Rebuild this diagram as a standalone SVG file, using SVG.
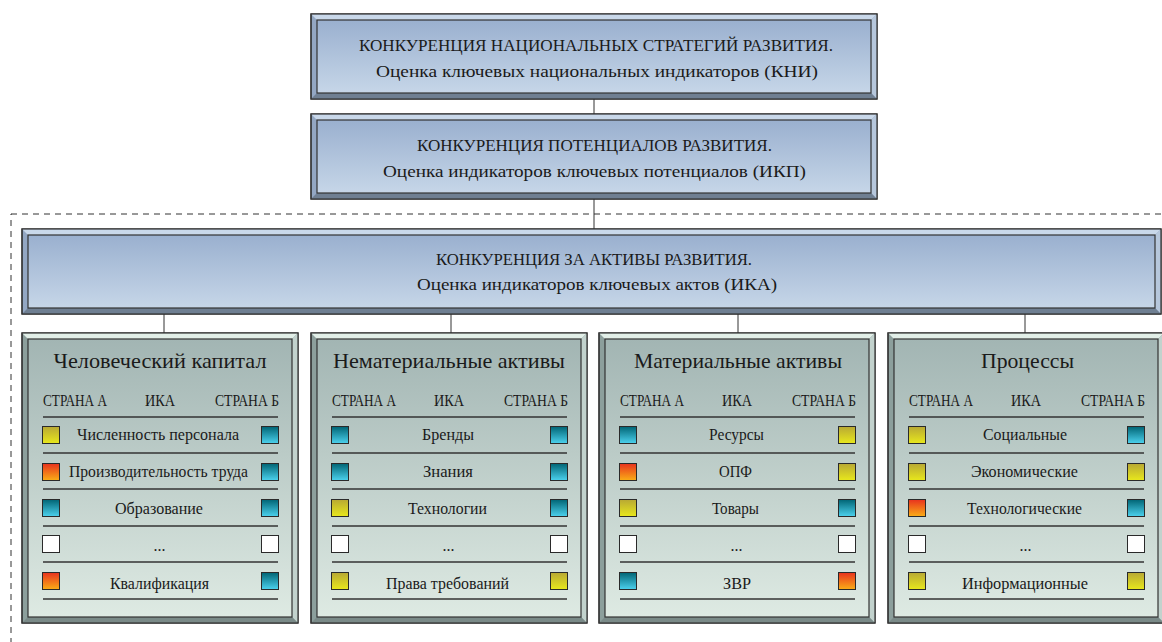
<svg xmlns="http://www.w3.org/2000/svg" width="1162" height="642" viewBox="0 0 1162 642">
<defs>
<linearGradient id="gBlue" x1="0" y1="0" x2="0" y2="1"><stop offset="0" stop-color="#9ab0cf"/><stop offset="1" stop-color="#c6d6e8"/></linearGradient>
<linearGradient id="gGreen" x1="0" y1="0" x2="0" y2="1"><stop offset="0" stop-color="#a2b5b3"/><stop offset="1" stop-color="#deeae3"/></linearGradient>
<linearGradient id="gY" x1="0" y1="0" x2="0" y2="1"><stop offset="0" stop-color="#b8a834"/><stop offset="1" stop-color="#e8e81c"/></linearGradient>
<linearGradient id="gR" x1="0" y1="0" x2="0" y2="1"><stop offset="0" stop-color="#e8321e"/><stop offset="1" stop-color="#faae16"/></linearGradient>
<linearGradient id="gT" x1="0" y1="0" x2="0" y2="1"><stop offset="0" stop-color="#006474"/><stop offset="1" stop-color="#4cd2ee"/></linearGradient>
</defs>
<style>
.edge{stroke:#333;stroke-width:1.2}
.bTop{fill:#c9d8ea}.bLeft{fill:#93a7c3}.bRight{fill:#b6c7dc}.bBot{fill:#6f7f92}
.gTop{fill:#e2efe8}.gLeft{fill:#8c9f9c}.gRight{fill:#c2d2cd}.gBot{fill:#7a8a88}
.faceB{fill:url(#gBlue);stroke:#333;stroke-width:1.2}
.faceG{fill:url(#gGreen);stroke:#333;stroke-width:1.2}
.conn{stroke:#333;stroke-width:1;fill:none}
.dash{fill:none;stroke:#333;stroke-width:1;stroke-dasharray:6 5}
text{font-family:"Liberation Serif","DejaVu Serif",serif;fill:#1a1a1a}
.h1{font-size:17px;text-anchor:middle}
.ttl{font-size:22px;text-anchor:middle}
.hdr{font-size:16px}
.row{font-size:16px;text-anchor:middle}
.sep{stroke:#333;stroke-width:1.3}
.sq{stroke:#2a2a2a;stroke-width:1}
.y{fill:url(#gY)}.r{fill:url(#gR)}.t{fill:url(#gT)}.w{fill:#fff}
</style>

<rect class="dash" x="11" y="214" width="1200" height="500"/>

<g id="connectors">
<line class="conn" x1="594" y1="99" x2="594" y2="114"/>
<line class="conn" x1="594" y1="199" x2="594" y2="229"/>
<line class="conn" x1="164" y1="314" x2="164" y2="333"/>
<line class="conn" x1="451" y1="314" x2="451" y2="333"/>
<line class="conn" x1="738" y1="314" x2="738" y2="333"/>
<line class="conn" x1="1025" y1="314" x2="1025" y2="333"/>
</g>

<g id="node-kni">
<rect class="edge bLeft" x="311" y="14" width="566" height="85"/>
<polygon class="bTop" points="311,14 877,14 871,20 317,20"/>
<polygon class="bRight" points="877,14 877,99 871,93 871,20"/>
<polygon class="bBot" points="311,99 877,99 871,93 317,93"/>
<rect class="faceB" x="317" y="20" width="554" height="73"/>
<rect class="edge" x="311" y="14" width="566" height="85" fill="none"/>
<text class="h1" x="596" y="51" textLength="474" lengthAdjust="spacingAndGlyphs">КОНКУРЕНЦИЯ НАЦИОНАЛЬНЫХ СТРАТЕГИЙ РАЗВИТИЯ.</text>
<text class="h1" x="597" y="77" textLength="442" lengthAdjust="spacingAndGlyphs">Оценка ключевых национальных индикаторов (КНИ)</text>
</g>

<g id="node-ikp">
<rect class="edge bLeft" x="311" y="114" width="566" height="85"/>
<polygon class="bTop" points="311,114 877,114 871,120 317,120"/>
<polygon class="bRight" points="877,114 877,199 871,193 871,120"/>
<polygon class="bBot" points="311,199 877,199 871,193 317,193"/>
<rect class="faceB" x="317" y="120" width="554" height="73"/>
<rect class="edge" x="311" y="114" width="566" height="85" fill="none"/>
<text class="h1" x="594.5" y="151" textLength="355" lengthAdjust="spacingAndGlyphs">КОНКУРЕНЦИЯ ПОТЕНЦИАЛОВ РАЗВИТИЯ.</text>
<text class="h1" x="594.5" y="177" textLength="423" lengthAdjust="spacingAndGlyphs">Оценка индикаторов ключевых потенциалов (ИКП)</text>
</g>

<g id="node-ika">
<rect class="edge bLeft" x="22" y="229" width="1139" height="85"/>
<polygon class="bTop" points="22,229 1161,229 1155,235 28,235"/>
<polygon class="bRight" points="1161,229 1161,314 1155,308 1155,235"/>
<polygon class="bBot" points="22,314 1161,314 1155,308 28,308"/>
<rect class="faceB" x="28" y="235" width="1127" height="73"/>
<rect class="edge" x="22" y="229" width="1139" height="85" fill="none"/>
<text class="h1" x="594" y="265" textLength="316" lengthAdjust="spacingAndGlyphs">КОНКУРЕНЦИЯ ЗА АКТИВЫ РАЗВИТИЯ.</text>
<text class="h1" x="597" y="290" textLength="360" lengthAdjust="spacingAndGlyphs">Оценка индикаторов ключевых актов (ИКА)</text>
</g>

<g id="node-human">
<rect class="edge gLeft" x="22" y="333" width="276" height="290"/>
<polygon class="gTop" points="22,333 298,333 292,339 28,339"/>
<polygon class="gRight" points="298,333 298,623 292,617 292,339"/>
<polygon class="gBot" points="22,623 298,623 292,617 28,617"/>
<rect class="faceG" x="28" y="339" width="264" height="278"/>
<rect class="edge" x="22" y="333" width="276" height="290" fill="none"/>
<text class="ttl" x="160" y="368" textLength="213" lengthAdjust="spacingAndGlyphs">Человеческий капитал</text>
<text class="hdr" x="43" y="406" textLength="64" lengthAdjust="spacingAndGlyphs">СТРАНА А</text>
<text class="hdr" x="160" y="406" text-anchor="middle" textLength="30" lengthAdjust="spacingAndGlyphs">ИКА</text>
<text class="hdr" x="279" y="406" text-anchor="end" textLength="64" lengthAdjust="spacingAndGlyphs">СТРАНА Б</text>
<line class="sep" x1="43" y1="417" x2="278" y2="417"/>
<line class="sep" x1="43" y1="453" x2="278" y2="453"/>
<line class="sep" x1="43" y1="489" x2="278" y2="489"/>
<line class="sep" x1="43" y1="526" x2="278" y2="526"/>
<line class="sep" x1="43" y1="562" x2="278" y2="562"/>
<line class="sep" x1="43" y1="599" x2="278" y2="599"/>
<rect class="sq y" x="42.5" y="426.5" width="17" height="17"/><rect class="sq t" x="261.5" y="426.5" width="17" height="17"/>
<rect class="sq r" x="42.5" y="463.5" width="17" height="17"/><rect class="sq t" x="261.5" y="463.5" width="17" height="17"/>
<rect class="sq t" x="42.5" y="499.5" width="17" height="17"/><rect class="sq t" x="261.5" y="499.5" width="17" height="17"/>
<rect class="sq w" x="42.5" y="535.5" width="17" height="17"/><rect class="sq w" x="261.5" y="535.5" width="17" height="17"/>
<rect class="sq r" x="42.5" y="572.5" width="17" height="17"/><rect class="sq t" x="261.5" y="572.5" width="17" height="17"/>
<text class="row" x="158" y="440" textLength="162" lengthAdjust="spacingAndGlyphs">Численность персонала</text>
<text class="row" x="158.5" y="477" textLength="179" lengthAdjust="spacingAndGlyphs">Производительность труда</text>
<text class="row" x="159" y="514" textLength="88" lengthAdjust="spacingAndGlyphs">Образование</text>
<text class="row" x="159.5" y="551">...</text>
<text class="row" x="159.5" y="589" textLength="99" lengthAdjust="spacingAndGlyphs">Квалификация</text>
</g>

<g id="node-intangible" transform="translate(289,0)">
<rect class="edge gLeft" x="22" y="333" width="276" height="290"/>
<polygon class="gTop" points="22,333 298,333 292,339 28,339"/>
<polygon class="gRight" points="298,333 298,623 292,617 292,339"/>
<polygon class="gBot" points="22,623 298,623 292,617 28,617"/>
<rect class="faceG" x="28" y="339" width="264" height="278"/>
<rect class="edge" x="22" y="333" width="276" height="290" fill="none"/>
<text class="ttl" x="160" y="368" textLength="232" lengthAdjust="spacingAndGlyphs">Нематериальные активы</text>
<text class="hdr" x="43" y="406" textLength="64" lengthAdjust="spacingAndGlyphs">СТРАНА А</text>
<text class="hdr" x="160" y="406" text-anchor="middle" textLength="30" lengthAdjust="spacingAndGlyphs">ИКА</text>
<text class="hdr" x="279" y="406" text-anchor="end" textLength="64" lengthAdjust="spacingAndGlyphs">СТРАНА Б</text>
<line class="sep" x1="43" y1="417" x2="278" y2="417"/>
<line class="sep" x1="43" y1="453" x2="278" y2="453"/>
<line class="sep" x1="43" y1="489" x2="278" y2="489"/>
<line class="sep" x1="43" y1="526" x2="278" y2="526"/>
<line class="sep" x1="43" y1="562" x2="278" y2="562"/>
<line class="sep" x1="43" y1="599" x2="278" y2="599"/>
<rect class="sq t" x="42.5" y="426.5" width="17" height="17"/><rect class="sq t" x="261.5" y="426.5" width="17" height="17"/>
<rect class="sq t" x="42.5" y="463.5" width="17" height="17"/><rect class="sq t" x="261.5" y="463.5" width="17" height="17"/>
<rect class="sq y" x="42.5" y="499.5" width="17" height="17"/><rect class="sq t" x="261.5" y="499.5" width="17" height="17"/>
<rect class="sq w" x="42.5" y="535.5" width="17" height="17"/><rect class="sq w" x="261.5" y="535.5" width="17" height="17"/>
<rect class="sq y" x="42.5" y="572.5" width="17" height="17"/><rect class="sq y" x="261.5" y="572.5" width="17" height="17"/>
<text class="row" x="159" y="440" textLength="52" lengthAdjust="spacingAndGlyphs">Бренды</text>
<text class="row" x="159" y="477" textLength="50" lengthAdjust="spacingAndGlyphs">Знания</text>
<text class="row" x="158.5" y="514" textLength="79" lengthAdjust="spacingAndGlyphs">Технологии</text>
<text class="row" x="159.5" y="551">...</text>
<text class="row" x="158.5" y="589" textLength="123" lengthAdjust="spacingAndGlyphs">Права требований</text>
</g>

<g id="node-tangible" transform="translate(577,0)">
<rect class="edge gLeft" x="22" y="333" width="276" height="290"/>
<polygon class="gTop" points="22,333 298,333 292,339 28,339"/>
<polygon class="gRight" points="298,333 298,623 292,617 292,339"/>
<polygon class="gBot" points="22,623 298,623 292,617 28,617"/>
<rect class="faceG" x="28" y="339" width="264" height="278"/>
<rect class="edge" x="22" y="333" width="276" height="290" fill="none"/>
<text class="ttl" x="161" y="368" textLength="208" lengthAdjust="spacingAndGlyphs">Материальные активы</text>
<text class="hdr" x="43" y="406" textLength="64" lengthAdjust="spacingAndGlyphs">СТРАНА А</text>
<text class="hdr" x="160" y="406" text-anchor="middle" textLength="30" lengthAdjust="spacingAndGlyphs">ИКА</text>
<text class="hdr" x="279" y="406" text-anchor="end" textLength="64" lengthAdjust="spacingAndGlyphs">СТРАНА Б</text>
<line class="sep" x1="43" y1="417" x2="278" y2="417"/>
<line class="sep" x1="43" y1="453" x2="278" y2="453"/>
<line class="sep" x1="43" y1="489" x2="278" y2="489"/>
<line class="sep" x1="43" y1="526" x2="278" y2="526"/>
<line class="sep" x1="43" y1="562" x2="278" y2="562"/>
<line class="sep" x1="43" y1="599" x2="278" y2="599"/>
<rect class="sq t" x="42.5" y="426.5" width="17" height="17"/><rect class="sq y" x="261.5" y="426.5" width="17" height="17"/>
<rect class="sq r" x="42.5" y="463.5" width="17" height="17"/><rect class="sq y" x="261.5" y="463.5" width="17" height="17"/>
<rect class="sq y" x="42.5" y="499.5" width="17" height="17"/><rect class="sq t" x="261.5" y="499.5" width="17" height="17"/>
<rect class="sq w" x="42.5" y="535.5" width="17" height="17"/><rect class="sq w" x="261.5" y="535.5" width="17" height="17"/>
<rect class="sq t" x="42.5" y="572.5" width="17" height="17"/><rect class="sq r" x="261.5" y="572.5" width="17" height="17"/>
<text class="row" x="159.5" y="440" textLength="55" lengthAdjust="spacingAndGlyphs">Ресурсы</text>
<text class="row" x="158.5" y="477" textLength="33" lengthAdjust="spacingAndGlyphs">ОПФ</text>
<text class="row" x="158.5" y="514" textLength="47" lengthAdjust="spacingAndGlyphs">Товары</text>
<text class="row" x="159.5" y="551">...</text>
<text class="row" x="160" y="589" textLength="28" lengthAdjust="spacingAndGlyphs">ЗВР</text>
</g>

<g id="node-processes" transform="translate(866,0)">
<rect class="edge gLeft" x="22" y="333" width="276" height="290"/>
<polygon class="gTop" points="22,333 298,333 292,339 28,339"/>
<polygon class="gRight" points="298,333 298,623 292,617 292,339"/>
<polygon class="gBot" points="22,623 298,623 292,617 28,617"/>
<rect class="faceG" x="28" y="339" width="264" height="278"/>
<rect class="edge" x="22" y="333" width="276" height="290" fill="none"/>
<text class="ttl" x="161.5" y="368" textLength="93" lengthAdjust="spacingAndGlyphs">Процессы</text>
<text class="hdr" x="43" y="406" textLength="64" lengthAdjust="spacingAndGlyphs">СТРАНА А</text>
<text class="hdr" x="160" y="406" text-anchor="middle" textLength="30" lengthAdjust="spacingAndGlyphs">ИКА</text>
<text class="hdr" x="279" y="406" text-anchor="end" textLength="64" lengthAdjust="spacingAndGlyphs">СТРАНА Б</text>
<line class="sep" x1="43" y1="417" x2="278" y2="417"/>
<line class="sep" x1="43" y1="453" x2="278" y2="453"/>
<line class="sep" x1="43" y1="489" x2="278" y2="489"/>
<line class="sep" x1="43" y1="526" x2="278" y2="526"/>
<line class="sep" x1="43" y1="562" x2="278" y2="562"/>
<line class="sep" x1="43" y1="599" x2="278" y2="599"/>
<rect class="sq y" x="42.5" y="426.5" width="17" height="17"/><rect class="sq t" x="261.5" y="426.5" width="17" height="17"/>
<rect class="sq y" x="42.5" y="463.5" width="17" height="17"/><rect class="sq y" x="261.5" y="463.5" width="17" height="17"/>
<rect class="sq r" x="42.5" y="499.5" width="17" height="17"/><rect class="sq t" x="261.5" y="499.5" width="17" height="17"/>
<rect class="sq w" x="42.5" y="535.5" width="17" height="17"/><rect class="sq w" x="261.5" y="535.5" width="17" height="17"/>
<rect class="sq y" x="42.5" y="572.5" width="17" height="17"/><rect class="sq y" x="261.5" y="572.5" width="17" height="17"/>
<text class="row" x="159" y="440" textLength="84" lengthAdjust="spacingAndGlyphs">Социальные</text>
<text class="row" x="158.5" y="477" textLength="107" lengthAdjust="spacingAndGlyphs">Экономические</text>
<text class="row" x="158.5" y="514" textLength="115" lengthAdjust="spacingAndGlyphs">Технологические</text>
<text class="row" x="159.5" y="551">...</text>
<text class="row" x="159" y="589" textLength="126" lengthAdjust="spacingAndGlyphs">Информационные</text>
</g>
</svg>
